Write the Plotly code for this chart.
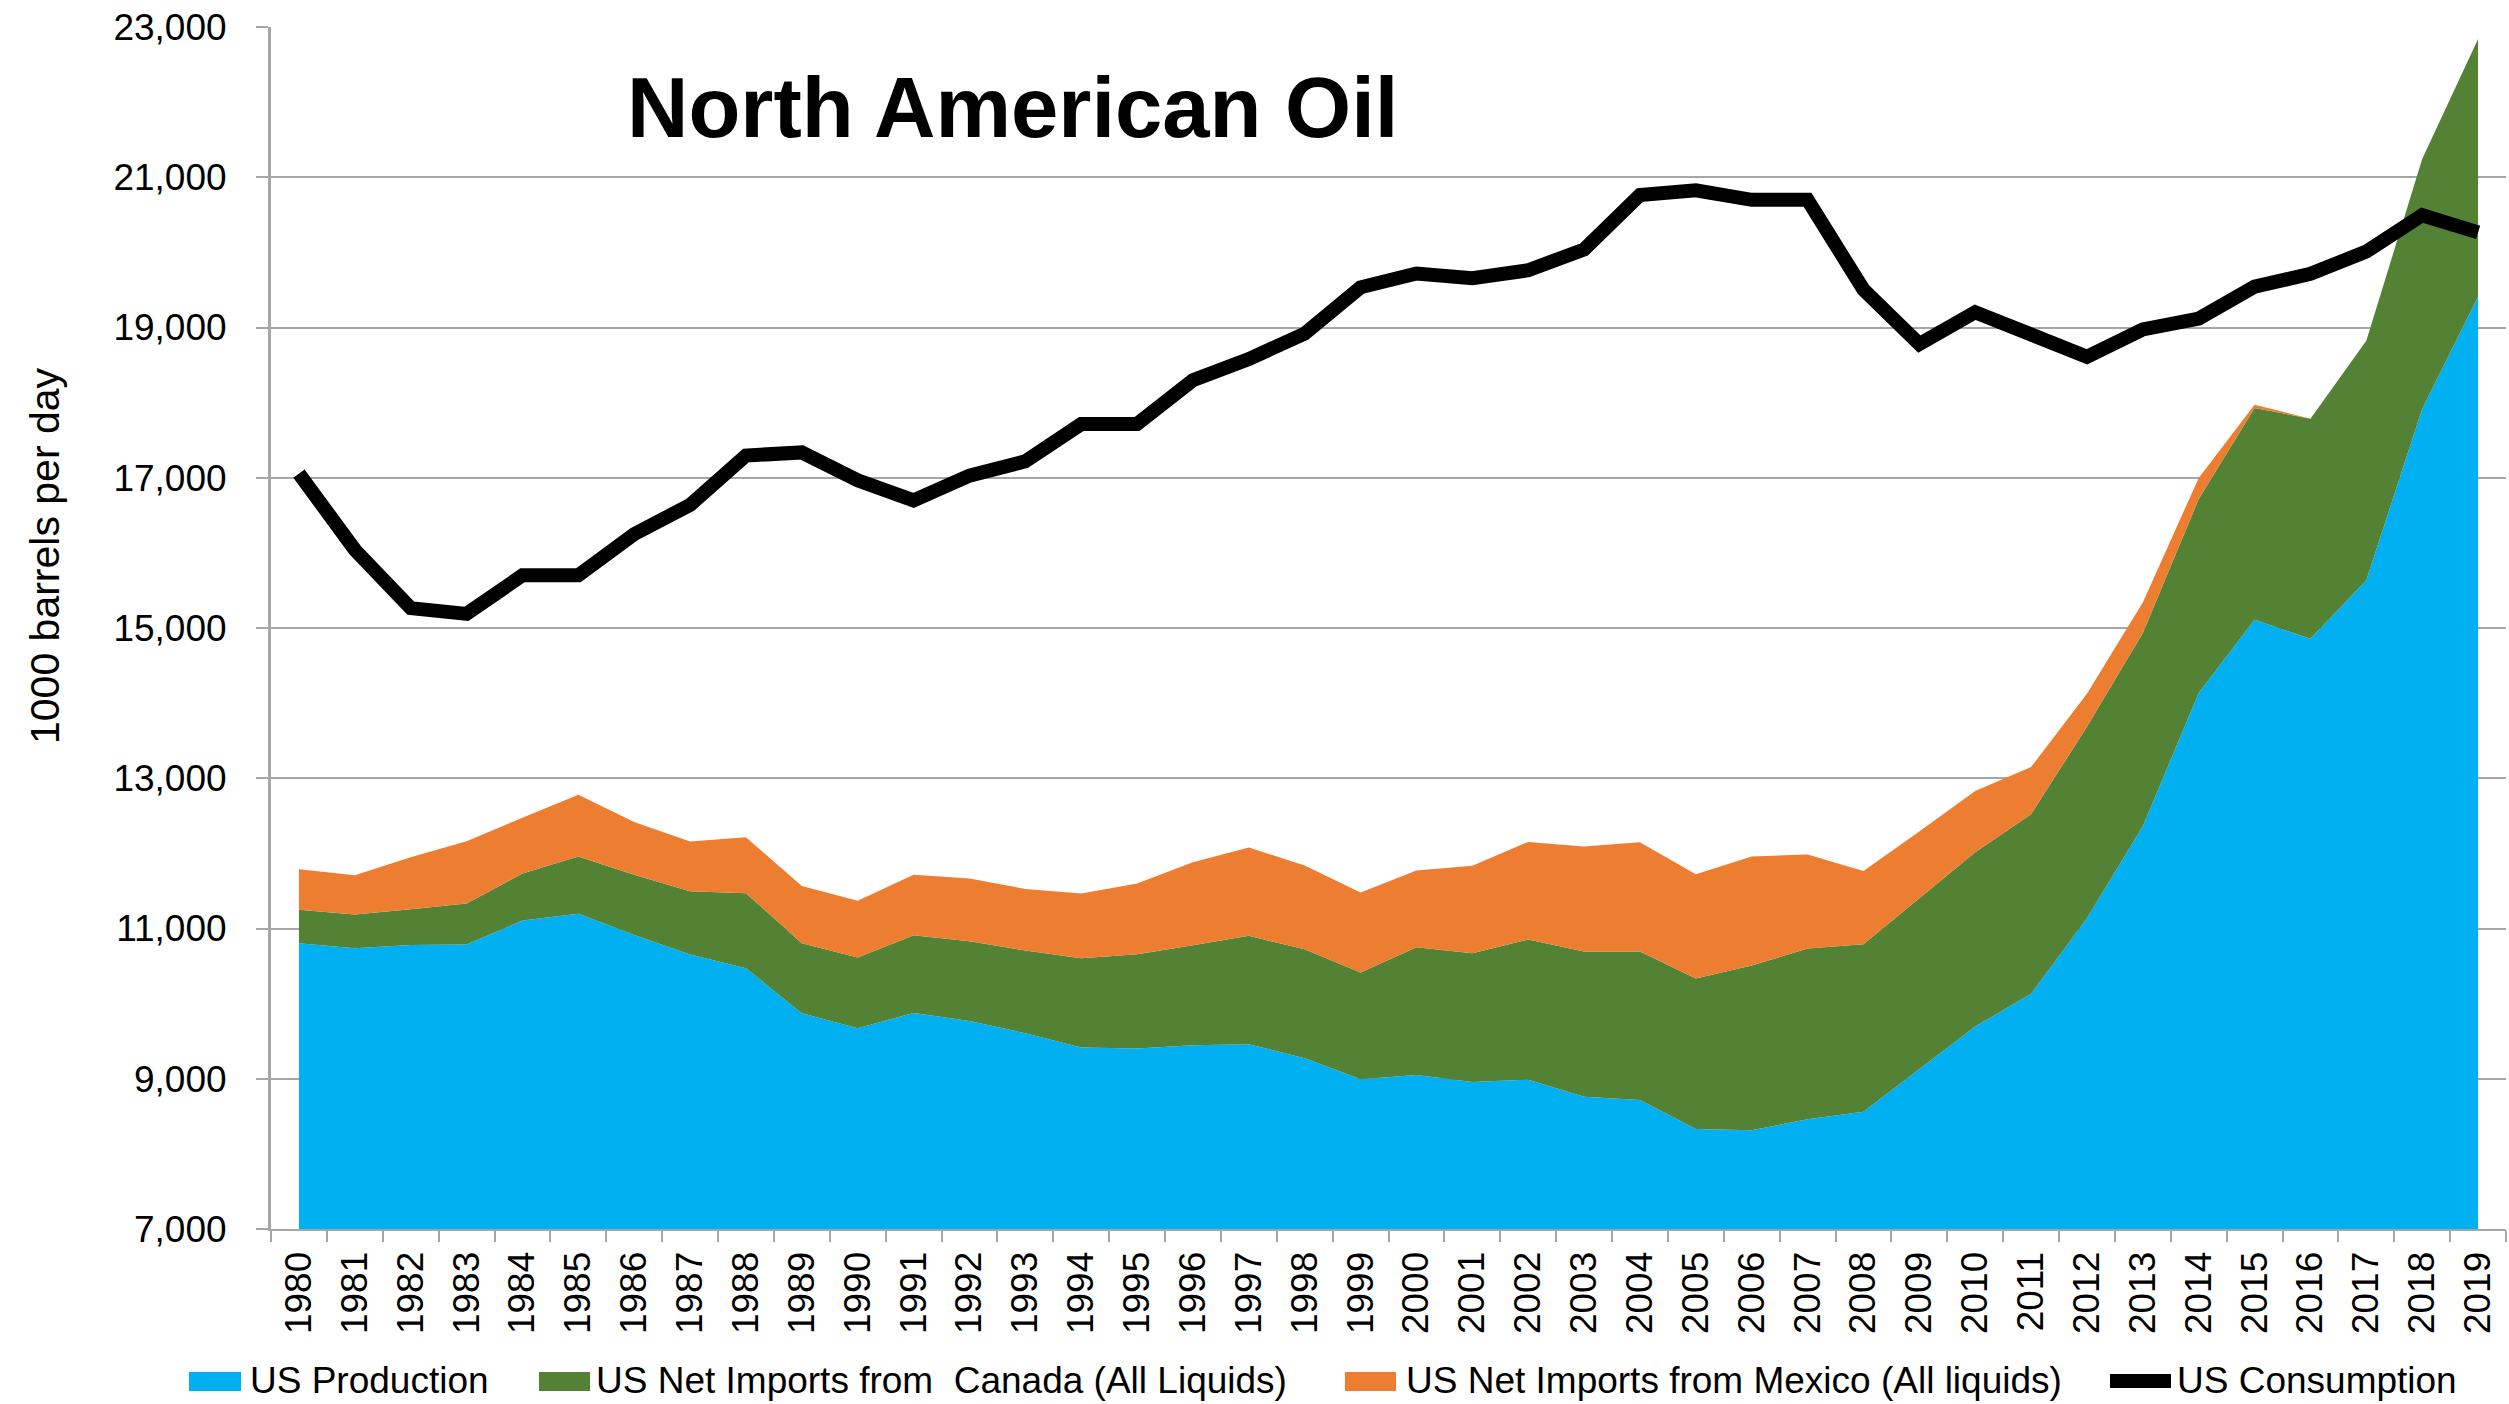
import plotly.graph_objects as go

# ---------------- data ----------------
years = [str(y) for y in range(1980, 2020)]

us_production = [10804, 10738, 10782, 10786, 11106, 11195, 10915, 10653, 10471, 9872,
                 9672, 9876, 9770, 9606, 9415, 9401, 9446, 9459, 9273, 8993,
                 9051, 8957, 8988, 8762, 8718, 8332, 8314, 8460, 8562, 9129,
                 9694, 10130, 11136, 12360, 14135, 15111, 14856, 15637, 17914, 19408]

imports_canada = [444, 447, 475, 546, 625, 763, 799, 844, 999, 932,
                  941, 1035, 1061, 1100, 1190, 1257, 1332, 1443, 1451, 1420,
                  1700, 1714, 1865, 1931, 1975, 2001, 2192, 2273, 2229, 2271,
                  2321, 2391, 2549, 2572, 2581, 2819, 2930, 3185, 3329, 3431]

imports_mexico = [542, 525, 693, 831, 742, 821, 702, 660, 746, 763,
                  755, 803, 834, 821, 860, 940, 1105, 1176, 1114, 1065,
                  1021, 1163, 1300, 1398, 1456, 1390, 1452, 1252, 976, 890,
                  815, 628, 441, 408, 281, 42, 0, 0, 0, 0]

us_consumption = [17056, 16042, 15265, 15188, 15701, 15701, 16250, 16638, 17296, 17337,
                  16967, 16698, 17027, 17218, 17714, 17714, 18299, 18580, 18919, 19535,
                  19719, 19655, 19762, 20039, 20763, 20827, 20699, 20699, 19506, 18779,
                  19204, 18907, 18610, 18975, 19119, 19544, 19714, 20011, 20495, 20266]

series_names = ["US Production",
                "US Net Imports from  Canada (All Liquids)",
                "US Net Imports from Mexico (All liquids)",
                "US Consumption"]
colors = ["#00B0F0", "#548235", "#ED7D31", "#000000"]

y_ticks = list(range(7000, 23001, 2000))

# ---------------- layout geometry (pixels) ----------------
W, H = 2509, 1404
L, R, T, B = 271, 3, 27, 175
PW, PH = W - L - R, H - T - B


def px(x):
    return (x - L) / PW


def py(y):
    return (H - B - y) / PH


FONT = "Liberation Sans, Arial, sans-serif"

fig = go.Figure()

for name, vals, col in zip(series_names[:3],
                           [us_production, imports_canada, imports_mexico],
                           colors[:3]):
    fig.add_trace(go.Scatter(
        x=years, y=vals, name=name, mode="lines",
        stackgroup="one", line=dict(width=0, color=col),
        fillcolor=col, showlegend=False))

fig.add_trace(go.Scatter(
    x=years, y=us_consumption, name=series_names[3], mode="lines",
    line=dict(color=colors[3], width=14), showlegend=False))

fig.update_layout(
    width=W, height=H, autosize=False,
    margin=dict(l=L, r=R, t=T, b=B, pad=0),
    paper_bgcolor="white", plot_bgcolor="white",
    font=dict(family=FONT, color="black", size=37),
    showlegend=False,
)

fig.update_xaxes(
    type="category", tickson="boundaries", ticks="outside", ticklen=11,
    tickwidth=2, tickcolor="#A6A6A6", showline=True, linecolor="#A6A6A6",
    linewidth=2, showgrid=False, tickangle=-90,
    tickfont=dict(size=37, family=FONT, color="black"),
    ticklabelstandoff=6, range=[-0.5, 39.5], fixedrange=True,
)

fig.update_yaxes(
    range=[7000, 23000], tickvals=y_ticks, tickformat=",d",
    ticks="outside", ticklen=12, tickwidth=2, tickcolor="#A6A6A6",
    showline=True, linecolor="#A6A6A6", linewidth=3,
    showgrid=True, gridcolor="#A6A6A6", gridwidth=1.5,
    tickfont=dict(size=37, family=FONT, color="black"),
    ticklabelstandoff=22, zeroline=False,
)

annotations = [
    dict(text="<b>North American Oil</b>", x=px(1012), y=py(107),
         xref="paper", yref="paper", xanchor="center", yanchor="middle",
         showarrow=False, font=dict(size=85, family=FONT, color="black")),
    dict(text="1000 barrels per day", x=px(45), y=py(556),
         xref="paper", yref="paper", xanchor="center", yanchor="middle",
         textangle=-90, showarrow=False,
         font=dict(size=41, family=FONT, color="black")),
]

# custom legend (swatch + text)
legend_items = [
    (189, 241, 248),
    (539, 590, 594),
    (1345, 1396, 1404),
    (2110, 2171, 2175),
]
shapes = []
for i, (x0, x1, xt) in enumerate(legend_items):
    if i < 3:
        shapes.append(dict(type="rect", xref="paper", yref="paper",
                           x0=px(x0), x1=px(x1), y0=py(1391), y1=py(1372),
                           fillcolor=colors[i], line=dict(width=0)))
    else:
        shapes.append(dict(type="rect", xref="paper", yref="paper",
                           x0=px(x0), x1=px(x1), y0=py(1388), y1=py(1374),
                           fillcolor=colors[i], line=dict(width=0)))
    annotations.append(dict(text=series_names[i], x=px(xt), y=py(1381),
                            xref="paper", yref="paper", xanchor="left",
                            yanchor="middle", showarrow=False,
                            font=dict(size=37, family=FONT, color="black")))

fig.update_layout(annotations=annotations, shapes=shapes)

fig.write_html("out.html", include_plotlyjs=True,
               config={"displayModeBar": False},
               post_script="document.body.style.margin='0';document.body.style.overflow='hidden';")
